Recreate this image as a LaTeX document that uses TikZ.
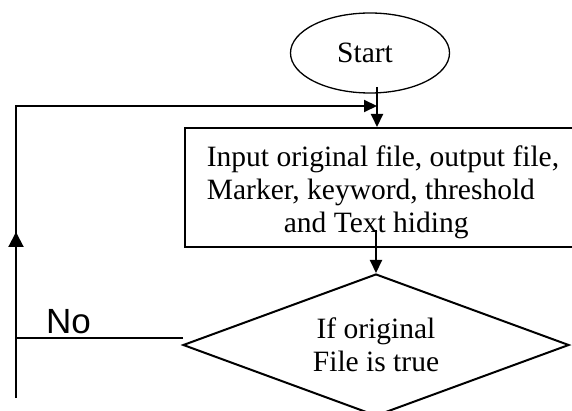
\documentclass[tikz,border=0pt]{standalone}
\usepackage{fontspec}
\setmainfont{Liberation Serif}
\newfontfamily\labelsans{Liberation Sans}
\usetikzlibrary{shapes.geometric,arrows.meta,calc,decorations.markings}

\begin{document}
\begin{tikzpicture}[x=1pt,y=-1pt,
  flow/.style={line width=2pt},
  tip/.style={-{Triangle[length=13pt,width=12pt]}},
  uptip/.style={postaction={decorate},
    decoration={markings, mark=at position 166pt with {\arrow{Triangle[length=15pt,width=15pt]}}}},
  maintext/.style={font=\fontsize{29.5}{33}\selectfont},
  terminal/.style={ellipse, draw, line width=1.3pt, minimum width=159pt,
    minimum height=80pt, inner sep=0pt, maintext},
  procbox/.style={rectangle, draw, line width=2pt, minimum width=396pt,
    minimum height=119pt, inner sep=0pt},
  boxtext/.style={align=left, inner sep=0pt, maintext},
  decision/.style={diamond, draw, line width=2pt, aspect=2.72,
    minimum width=386pt, minimum height=142pt, inner sep=0pt,
    align=center, maintext},
  branch/.style={font=\labelsans\fontsize{35}{38}\selectfont, inner sep=0pt,
    anchor=base west}
]
\useasboundingbox (0,0) rectangle (572,411);
\clip (0,0) rectangle (572,411);

% shapes
\node[terminal] (start) at (370,53) {Start\hspace*{10pt}};
\node[procbox] (inp) at (383,187.5) {};
\node[boxtext] (inptxt) at (383,192.7)
  {Input original file, output file,\\
   Marker, keyword, threshold\\
   \hspace*{77pt}and Text hiding};
\node[decision] (dec) at (376,345) {If original\\File is true};
\node[branch] (no) at (46,333) {No};

% connector end points
\coordinate (stbot) at (377,87);
\coordinate (inpout) at (376,230);
\coordinate (loopbot) at (16,398);
\coordinate (looptop) at (16,106);
\coordinate (loopend) at (377,106);
\coordinate (nojoin) at (16,338);
\coordinate (noout) at ($(dec.west)+(1,-7)$);

% connectors
\draw[flow,tip] (stbot) -- (stbot |- inp.north);
\draw[flow,tip] (inpout) -- (dec.north);
\draw[flow,tip,uptip] (loopbot) -- (looptop) -- (loopend);
\draw[line width=1.5pt] (noout) -- (nojoin);
\end{tikzpicture}
\end{document}
